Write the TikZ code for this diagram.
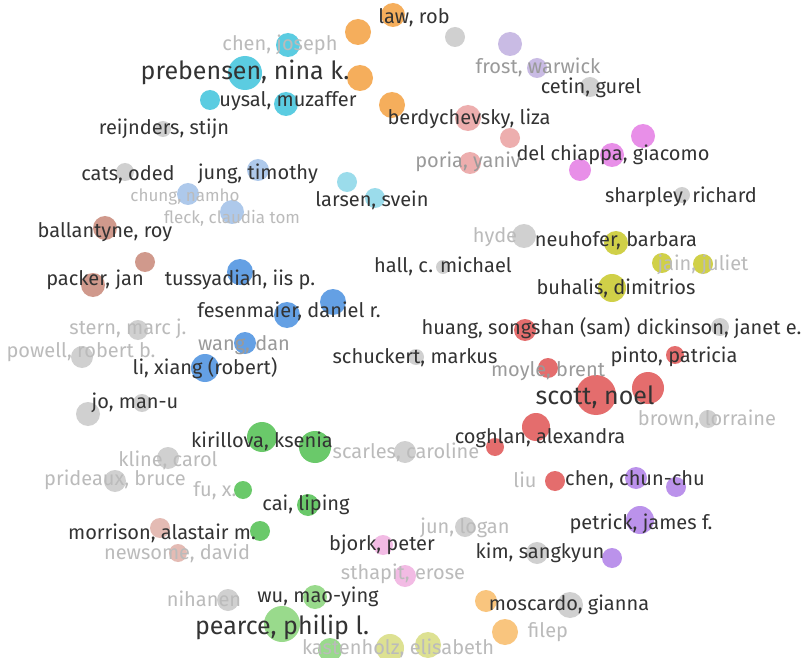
\documentclass[tikz,border=0pt]{standalone}
\usepackage{fontspec}
\setmainfont{Fira Sans}
\usetikzlibrary{backgrounds}
\definecolor{ccyan}{HTML}{3FC4DC}
\definecolor{clcyan}{HTML}{8AD6E8}
\definecolor{corange}{HTML}{F4A040}
\definecolor{cgray}{HTML}{C8C8C8}
\definecolor{clpurple}{HTML}{C0B0E0}
\definecolor{csalmon}{HTML}{EBA0A0}
\definecolor{cmagenta}{HTML}{E47CE4}
\definecolor{clblue}{HTML}{A0C0E8}
\definecolor{cblue}{HTML}{4A90E0}
\definecolor{cbrown}{HTML}{C88878}
\definecolor{cyellow}{HTML}{C8C828}
\definecolor{cred}{HTML}{E05454}
\definecolor{cpurple}{HTML}{B080E8}
\definecolor{cgreen}{HTML}{50C050}
\definecolor{clgreen}{HTML}{88D478}
\definecolor{crosy}{HTML}{E0B0A8}
\definecolor{cpink}{HTML}{F0B0E0}
\definecolor{clorange}{HTML}{F8BC68}
\definecolor{cyg}{HTML}{D8DC80}
\definecolor{dtext}{HTML}{333333}
\definecolor{ftext}{HTML}{BBBBBB}
\definecolor{mtext}{HTML}{9A9A9A}
\tikzset{
  dot/.style 2 args={circle,fill=#1,fill opacity=0.85,draw=none,minimum size=2*#2,inner sep=0pt},
  lab/.style={text=dtext,inner sep=0pt,font=\fontsize{20}{24}\selectfont},
  biglab/.style={text=dtext,inner sep=0pt,font=\fontsize{25}{30}\selectfont},
  flab/.style={text=ftext,inner sep=0pt,font=\fontsize{20}{24}\selectfont},
  sflab/.style={text=ftext,inner sep=0pt,font=\fontsize{17}{20}\selectfont},
  mlab/.style={text=mtext,inner sep=0pt,font=\fontsize{20}{24}\selectfont},
  edge/.style={draw=#1,line width=1.6pt,opacity=0.6},
}
\begin{document}
\begin{tikzpicture}[x=1pt,y=-1pt]
\useasboundingbox[fill=white] (0,0) rectangle (804,658);
% ---- circles ----
\node[dot={ccyan}{17}] (preb) at (245,73) {};
\node[dot={ccyan}{12}] (chenj) at (288,45) {};
\node[dot={ccyan}{10}] (uys1) at (210,100) {};
\node[dot={ccyan}{12}] (uys2) at (286,104) {};
\node[dot={clcyan}{10}] (lar1) at (347,182) {};
\node[dot={clcyan}{10}] (lar2) at (375,198) {};
\node[dot={corange}{13}] (o1) at (358,32) {};
\node[dot={corange}{12}] (o2) at (393,15) {};
\node[dot={corange}{13}] (o3) at (360,78) {};
\node[dot={corange}{13}] (o4) at (392,105) {};
\node[dot={cgray}{10}] (g1) at (455,37) {};
\node[dot={clpurple}{12}] (p1) at (510,44) {};
\node[dot={clpurple}{10}] (p2) at (537,68) {};
\node[dot={cgray}{10}] (g2) at (590,87) {};
\node[dot={csalmon}{13}] (s1) at (468,118) {};
\node[dot={csalmon}{10}] (s2) at (510,138) {};
\node[dot={csalmon}{11}] (s3) at (470,163) {};
\node[dot={cmagenta}{12}] (m1) at (643,136) {};
\node[dot={cmagenta}{12}] (m2) at (612,155) {};
\node[dot={cmagenta}{11}] (m3) at (580,170) {};
\node[dot={cgray}{8}] (g3) at (682,195) {};
\node[dot={cgray}{8}] (g4) at (163,129) {};
\node[dot={cgray}{9}] (g5) at (125,172) {};
\node[dot={clblue}{11}] (b1) at (258,170) {};
\node[dot={clblue}{11}] (b2) at (188,194) {};
\node[dot={clblue}{12}] (b3) at (232,212) {};
\node[dot={cblue}{13}] (b4) at (240,272) {};
\node[dot={cblue}{13}] (b5) at (287,315) {};
\node[dot={cblue}{13}] (b6) at (333,302) {};
\node[dot={cblue}{11}] (b7) at (245,343) {};
\node[dot={cblue}{14}] (b8) at (205,368) {};
\node[dot={cbrown}{12}] (r1) at (105,228) {};
\node[dot={cbrown}{10}] (r2) at (145,262) {};
\node[dot={cbrown}{12}] (r3) at (93,285) {};
\node[dot={cgray}{10}] (g6) at (138,330) {};
\node[dot={cgray}{11}] (g7) at (82,357) {};
\node[dot={cgray}{12}] (g8) at (88,414) {};
\node[dot={cgray}{9}] (g9) at (142,403) {};
\node[dot={cgray}{7}] (g10) at (443,267) {};
\node[dot={cgray}{12}] (g11) at (524,236) {};
\node[dot={cgray}{8}] (g12) at (416,357) {};
\node[dot={cgray}{9}] (g13) at (720,327) {};
\node[dot={cgray}{9}] (g14) at (708,419) {};
\node[dot={cgray}{11}] (g15) at (405,452) {};
\node[dot={cgray}{10}] (g16) at (465,527) {};
\node[dot={cgray}{11}] (g17) at (537,553) {};
\node[dot={cgray}{13}] (g18) at (570,605) {};
\node[dot={cgray}{11}] (g19) at (228,600) {};
\node[dot={cgray}{11}] (g20) at (168,458) {};
\node[dot={cgray}{11}] (g21) at (115,481) {};
\node[dot={cyellow}{12}] (y1) at (616,243) {};
\node[dot={cyellow}{10}] (y2) at (662,263) {};
\node[dot={cyellow}{10}] (y3) at (703,264) {};
\node[dot={cyellow}{14}] (y4) at (612,288) {};
\node[dot={cred}{11}] (e1) at (525,330) {};
\node[dot={cred}{10}] (e2) at (548,368) {};
\node[dot={cred}{20}] (e3) at (596,395) {};
\node[dot={cred}{16}] (e4) at (648,388) {};
\node[dot={cred}{9}] (e5) at (675,355) {};
\node[dot={cred}{14}] (e6) at (536,427) {};
\node[dot={cred}{9}] (e7) at (495,447) {};
\node[dot={cred}{10}] (e8) at (555,481) {};
\node[dot={cpurple}{11}] (u1) at (636,478) {};
\node[dot={cpurple}{10}] (u2) at (676,487) {};
\node[dot={cpurple}{14}] (u3) at (640,520) {};
\node[dot={cpurple}{10}] (u4) at (612,558) {};
\node[dot={cgreen}{15}] (gr1) at (262,437) {};
\node[dot={cgreen}{16}] (gr2) at (315,447) {};
\node[dot={cgreen}{9}] (gr3) at (243,490) {};
\node[dot={cgreen}{11}] (gr4) at (308,505) {};
\node[dot={cgreen}{10}] (gr5) at (260,531) {};
\node[dot={clgreen}{12}] (lg1) at (315,597) {};
\node[dot={clgreen}{18}] (lg2) at (282,624) {};
\node[dot={clgreen}{12}] (lg3) at (330,650) {};
\node[dot={crosy}{10}] (n1) at (160,528) {};
\node[dot={crosy}{9}] (n2) at (178,553) {};
\node[dot={cpink}{10}] (k1) at (383,545) {};
\node[dot={cpink}{11}] (k2) at (405,576) {};
\node[dot={clorange}{11}] (lo1) at (486,601) {};
\node[dot={clorange}{13}] (lo2) at (505,632) {};
\node[dot={cyg}{14}] (yg1) at (390,648) {};
\node[dot={cyg}{13}] (yg2) at (428,645) {};
% ---- edges ----
\begin{scope}[on background layer]
\draw[edge=corange] (o2) -- (o1) -- (o3) -- (o4);
\draw[edge=cgray] (o2) -- (g1) -- (p1);
\draw[edge=clpurple] (p1) -- (p2);
\draw[edge=ccyan] (chenj) -- (preb) -- (uys1) -- (uys2) -- (preb);
\draw[edge=ccyan] (preb) -- (o3);
\draw[edge=csalmon] (s1) -- (s3) -- (s2) -- (s1);
\draw[edge=cmagenta] (m1) -- (m2) -- (m3);
\draw[edge=clblue] (b1) -- (b3) -- (b2);
\draw[edge=clblue] (b3) -- (b4);
\draw[edge=cblue] (b4) -- (b5) -- (b6);
\draw[edge=cblue] (b5) -- (b7) -- (b8);
\draw[edge=cgreen] (b8) -- (gr1);
\draw[edge=cbrown] (r1) -- (r3) -- (r2) -- (r1);
\draw[edge=cyellow] (y4) -- (y1) -- (y2) -- (y3);
\draw[edge=cred] (e1) -- (e2) -- (e3) -- (e4) -- (e5);
\draw[edge=cred] (e1) -- (e3) -- (e6) -- (e7);
\draw[edge=cred] (e6) -- (e8);
\draw[edge=cpurple] (u1) -- (u3) -- (u4);
\draw[edge=cpurple] (u1) -- (u2) -- (u3);
\draw[edge=cgreen] (gr1) -- (gr2) -- (gr4) -- (gr5) -- (gr3) -- (gr1) -- (gr4);
\draw[edge=cgreen] (gr3) -- (gr4);
\draw[edge=clgreen] (lg1) -- (lg2) -- (lg3);
\draw[edge=crosy] (n1) -- (n2);
\draw[edge=clorange] (lo1) -- (lo2);
\draw[edge=cyg] (yg1) -- (yg2);
\end{scope}
% ---- labels ----
\node[lab] (tlaw) at (414,18) {law, rob};
\node[flab] (tchenj) at (280,45) {chen, joseph};
\node[biglab] (tpreb) at (245,72) {prebensen, nina k.};
\node[lab] (tuys) at (288,101) {uysal, muzaffer};
\node[mlab] (tfrost) at (538,67) {frost, warwick};
\node[lab] (tcetin) at (591,88) {cetin, gurel};
\node[lab] (treij) at (164,129) {reijnders, stijn};
\node[lab] (tberd) at (469,119) {berdychevsky, liza};
\node[lab] (tdelc) at (613,155) {del chiappa, giacomo};
\node[mlab] (tporia) at (468,162) {poria, yaniv};
\node[lab] (tcats) at (128,175) {cats, oded};
\node[lab] (tjung) at (258,174) {jung, timothy};
\node[lab] (tsharp) at (681,197) {sharpley, richard};
\node[lab] (tlars) at (372,200) {larsen, svein};
\node[sflab] (tchung) at (185,197) {chung, namho};
\node[sflab] (tfleck) at (232,218) {fleck, claudia tom};
\node[lab] (tball) at (105,232) {ballantyne, roy};
\node[lab] (tneuh) at (616,241) {neuhofer, barbara};
\node[flab] (thyde) at (495,237) {hyde};
\node[lab] (thall) at (443,266) {hall, c. michael};
\node[flab] (tjain) at (703,265) {jain, juliet};
\node[lab] (tpack) at (95,280) {packer, jan};
\node[lab] (ttuss) at (240,280) {tussyadiah, iis p.};
\node[lab] (tbuh) at (616,288) {buhalis, dimitrios};
\node[lab] (tfes) at (289,311) {fesenmaier, daniel r.};
\node[lab] (thuang) at (526,328) {huang, songshan (sam)};
\node[lab] (tdick) at (719,329) {dickinson, janet e.};
\node[flab] (tgr6) at (128,329) {stern, marc j.};
\node[flab] (tpow) at (81,352) {powell, robert b.};
\node[mlab] (twang) at (244,345) {wang, dan};
\node[lab] (tpinto) at (674,357) {pinto, patricia};
\node[lab] (tschu) at (415,358) {schuckert, markus};
\node[mlab] (tmoyle) at (548,371) {moyle, brent};
\node[lab] (tli) at (205,368) {li, xiang (robert)};
\node[biglab] (tscott) at (595,397) {scott, noel};
\node[lab] (tjo) at (135,403) {jo, man-u};
\node[flab] (tbrown) at (707,419) {brown, lorraine};
\node[lab] (tkiri) at (262,441) {kirillova, ksenia};
\node[lab] (tcogh) at (540,438) {coghlan, alexandra};
\node[flab] (tscar) at (406,452) {scarles, caroline};
\node[flab] (tkline) at (168,460) {kline, carol};
\node[flab] (tbruce) at (115,480) {prideaux, bruce};
\node[flab] (tfu) at (215,491) {fu, x.};
\node[flab] (tliu) at (525,480) {liu};
\node[lab] (tchen) at (635,480) {chen, chun-chu};
\node[lab] (tcai) at (306,505) {cai, liping};
\node[lab] (tpet) at (641,524) {petrick, james f.};
\node[lab] (tmorr) at (162,533) {morrison, alastair m.};
\node[flab] (tlogan) at (465,528) {jun, logan};
\node[lab] (tbjork) at (382,545) {bjork, peter};
\node[lab] (tkim) at (540,553) {kim, sangkyun};
\node[flab] (tnews) at (177,553) {newsome, david};
\node[flab] (tsthap) at (403,574) {sthapit, erose};
\node[flab] (tniha) at (204,599) {nihanen};
\node[lab] (twu) at (318,597) {wu, mao-ying};
\node[lab] (tmosc) at (569,605) {moscardo, gianna};
\node[biglab] (tpear) at (282,627) {pearce, philip l.};
\node[flab] (tkast) at (398,648) {kastenholz, elisabeth};
\node[flab] (tlo2) at (548,632) {filep};
\end{tikzpicture}
\end{document}
